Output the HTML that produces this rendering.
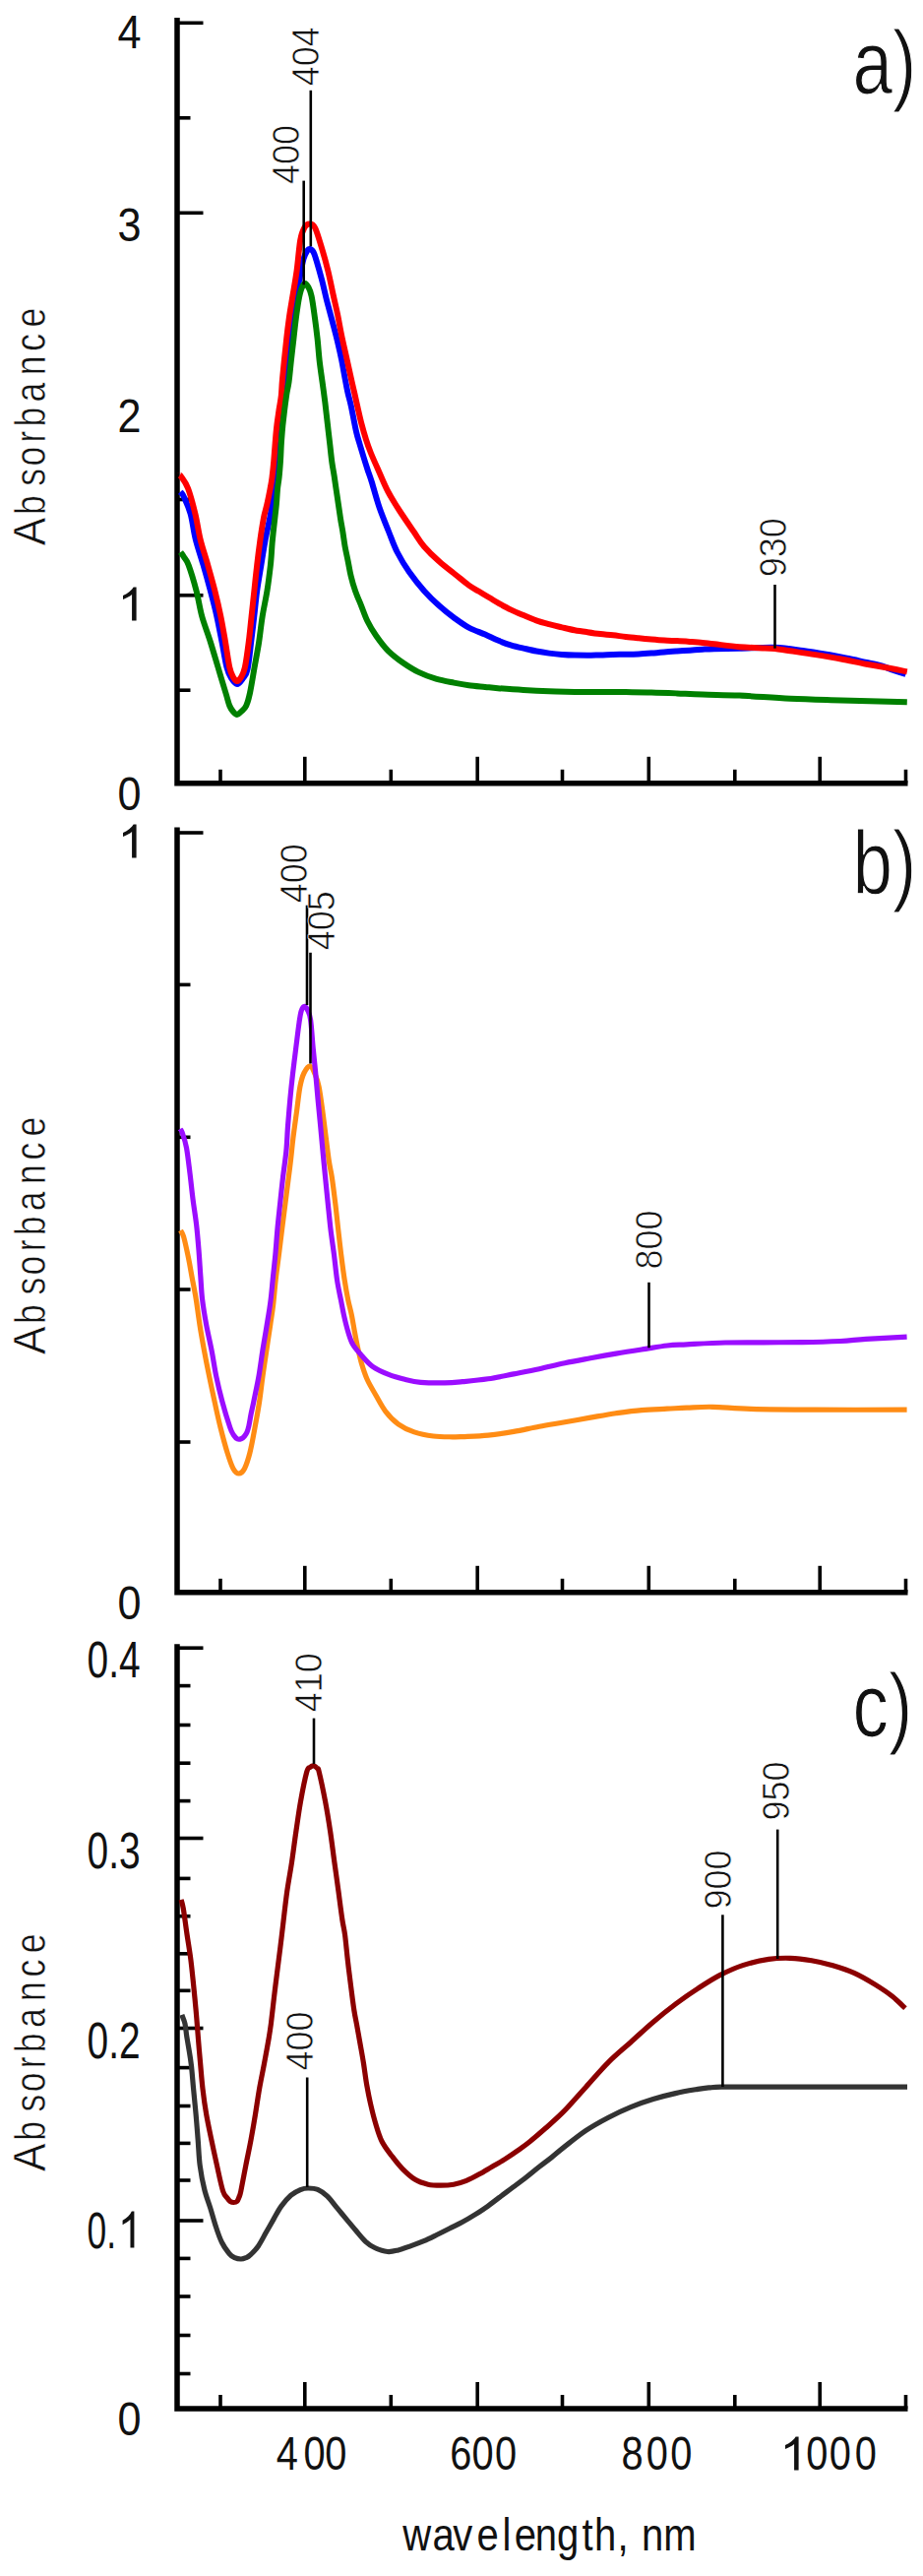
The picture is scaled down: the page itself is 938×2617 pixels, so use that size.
<!DOCTYPE html><html><head><meta charset="utf-8"><style>html,body{margin:0;padding:0;background:#fff;width:938px;height:2617px;overflow:hidden}svg{display:block}text{font-family:"Liberation Sans",sans-serif;fill:#111}</style></head><body>
<svg width="938" height="2617" viewBox="0 0 938 2617">
<rect width="938" height="2617" fill="#fff"/>
<path d="M180.0,18.0 V795.8 H922.5" fill="none" stroke="#000" stroke-width="5.5" stroke-linejoin="miter"/>
<line x1="180" y1="23.3" x2="206.5" y2="23.3" stroke="#000" stroke-width="3.6"/>
<line x1="180" y1="216.3" x2="206.5" y2="216.3" stroke="#000" stroke-width="3.6"/>
<line x1="180" y1="604.8" x2="206.5" y2="604.8" stroke="#000" stroke-width="3.6"/>
<line x1="180" y1="119.8" x2="193.5" y2="119.8" stroke="#000" stroke-width="3.6"/>
<line x1="180" y1="507.5" x2="193.5" y2="507.5" stroke="#000" stroke-width="3.6"/>
<line x1="180" y1="701.2" x2="193.5" y2="701.2" stroke="#000" stroke-width="3.6"/>
<line x1="309.8" y1="795.8" x2="309.8" y2="768.8" stroke="#000" stroke-width="3.6"/>
<line x1="485.2" y1="795.8" x2="485.2" y2="768.8" stroke="#000" stroke-width="3.6"/>
<line x1="659.3" y1="795.8" x2="659.3" y2="768.8" stroke="#000" stroke-width="3.6"/>
<line x1="833.2" y1="795.8" x2="833.2" y2="768.8" stroke="#000" stroke-width="3.6"/>
<line x1="224.0" y1="795.8" x2="224.0" y2="781.8" stroke="#000" stroke-width="3.6"/>
<line x1="397.3" y1="795.8" x2="397.3" y2="781.8" stroke="#000" stroke-width="3.6"/>
<line x1="571.5" y1="795.8" x2="571.5" y2="781.8" stroke="#000" stroke-width="3.6"/>
<line x1="746.8" y1="795.8" x2="746.8" y2="781.8" stroke="#000" stroke-width="3.6"/>
<line x1="920.5" y1="795.8" x2="920.5" y2="781.8" stroke="#000" stroke-width="3.6"/>
<path d="M180.0,840.5 V1617.8 H922.5" fill="none" stroke="#000" stroke-width="5.5" stroke-linejoin="miter"/>
<line x1="180" y1="846.0" x2="206.5" y2="846.0" stroke="#000" stroke-width="3.6"/>
<line x1="180" y1="1000.4" x2="193.5" y2="1000.4" stroke="#000" stroke-width="3.6"/>
<line x1="180" y1="1155.3" x2="193.5" y2="1155.3" stroke="#000" stroke-width="3.6"/>
<line x1="180" y1="1310.0" x2="193.5" y2="1310.0" stroke="#000" stroke-width="3.6"/>
<line x1="180" y1="1465.0" x2="193.5" y2="1465.0" stroke="#000" stroke-width="3.6"/>
<line x1="309.8" y1="1617.8" x2="309.8" y2="1590.8" stroke="#000" stroke-width="3.6"/>
<line x1="485.2" y1="1617.8" x2="485.2" y2="1590.8" stroke="#000" stroke-width="3.6"/>
<line x1="659.3" y1="1617.8" x2="659.3" y2="1590.8" stroke="#000" stroke-width="3.6"/>
<line x1="833.2" y1="1617.8" x2="833.2" y2="1590.8" stroke="#000" stroke-width="3.6"/>
<line x1="224.0" y1="1617.8" x2="224.0" y2="1603.8" stroke="#000" stroke-width="3.6"/>
<line x1="397.3" y1="1617.8" x2="397.3" y2="1603.8" stroke="#000" stroke-width="3.6"/>
<line x1="571.5" y1="1617.8" x2="571.5" y2="1603.8" stroke="#000" stroke-width="3.6"/>
<line x1="746.8" y1="1617.8" x2="746.8" y2="1603.8" stroke="#000" stroke-width="3.6"/>
<line x1="920.5" y1="1617.8" x2="920.5" y2="1603.8" stroke="#000" stroke-width="3.6"/>
<path d="M180.0,1670.2 V2447.0 H922.5" fill="none" stroke="#000" stroke-width="5.5" stroke-linejoin="miter"/>
<line x1="180" y1="1674.2" x2="206.5" y2="1674.2" stroke="#000" stroke-width="3.6"/>
<line x1="180" y1="1867.5" x2="206.5" y2="1867.5" stroke="#000" stroke-width="3.6"/>
<line x1="180" y1="2060.5" x2="206.5" y2="2060.5" stroke="#000" stroke-width="3.6"/>
<line x1="180" y1="2256.0" x2="206.5" y2="2256.0" stroke="#000" stroke-width="3.6"/>
<line x1="180" y1="1712.6" x2="193.5" y2="1712.6" stroke="#000" stroke-width="3.6"/>
<line x1="180" y1="1752.5" x2="193.5" y2="1752.5" stroke="#000" stroke-width="3.6"/>
<line x1="180" y1="1791.2" x2="193.5" y2="1791.2" stroke="#000" stroke-width="3.6"/>
<line x1="180" y1="1829.6" x2="193.5" y2="1829.6" stroke="#000" stroke-width="3.6"/>
<line x1="180" y1="1908.4" x2="193.5" y2="1908.4" stroke="#000" stroke-width="3.6"/>
<line x1="180" y1="1946.7" x2="193.5" y2="1946.7" stroke="#000" stroke-width="3.6"/>
<line x1="180" y1="1984.8" x2="193.5" y2="1984.8" stroke="#000" stroke-width="3.6"/>
<line x1="180" y1="2022.3" x2="193.5" y2="2022.3" stroke="#000" stroke-width="3.6"/>
<line x1="180" y1="2100.6" x2="193.5" y2="2100.6" stroke="#000" stroke-width="3.6"/>
<line x1="180" y1="2139.5" x2="193.5" y2="2139.5" stroke="#000" stroke-width="3.6"/>
<line x1="180" y1="2177.4" x2="193.5" y2="2177.4" stroke="#000" stroke-width="3.6"/>
<line x1="180" y1="2215.0" x2="193.5" y2="2215.0" stroke="#000" stroke-width="3.6"/>
<line x1="180" y1="2294.4" x2="193.5" y2="2294.4" stroke="#000" stroke-width="3.6"/>
<line x1="180" y1="2333.0" x2="193.5" y2="2333.0" stroke="#000" stroke-width="3.6"/>
<line x1="180" y1="2372.5" x2="193.5" y2="2372.5" stroke="#000" stroke-width="3.6"/>
<line x1="180" y1="2411.5" x2="193.5" y2="2411.5" stroke="#000" stroke-width="3.6"/>
<line x1="309.8" y1="2447.0" x2="309.8" y2="2420.0" stroke="#000" stroke-width="3.6"/>
<line x1="485.2" y1="2447.0" x2="485.2" y2="2420.0" stroke="#000" stroke-width="3.6"/>
<line x1="659.3" y1="2447.0" x2="659.3" y2="2420.0" stroke="#000" stroke-width="3.6"/>
<line x1="833.2" y1="2447.0" x2="833.2" y2="2420.0" stroke="#000" stroke-width="3.6"/>
<line x1="224.0" y1="2447.0" x2="224.0" y2="2433.0" stroke="#000" stroke-width="3.6"/>
<line x1="397.3" y1="2447.0" x2="397.3" y2="2433.0" stroke="#000" stroke-width="3.6"/>
<line x1="571.5" y1="2447.0" x2="571.5" y2="2433.0" stroke="#000" stroke-width="3.6"/>
<line x1="746.8" y1="2447.0" x2="746.8" y2="2433.0" stroke="#000" stroke-width="3.6"/>
<line x1="920.5" y1="2447.0" x2="920.5" y2="2433.0" stroke="#000" stroke-width="3.6"/>
<path d="M183.0,500.0 C183.5,500.5 184.2,499.3 186.0,503.0 C187.8,506.7 191.5,514.5 193.6,522.0 C195.7,529.5 196.6,539.3 198.8,548.0 C201.0,556.7 204.1,565.3 206.6,574.0 C209.1,582.7 211.5,591.3 213.8,600.0 C216.1,608.7 218.4,617.3 220.3,626.0 C222.2,634.7 223.8,643.3 225.5,652.0 C227.2,660.7 228.9,671.8 230.5,678.0 C232.1,684.2 233.2,686.2 235.0,689.0 C236.8,691.8 239.0,695.0 241.0,695.0 C243.0,695.0 245.2,691.5 247.0,689.0 C248.8,686.5 250.1,686.2 251.5,680.0 C252.9,673.8 254.1,661.0 255.2,652.0 C256.3,643.0 257.3,634.7 258.3,626.0 C259.3,617.3 260.0,608.7 261.2,600.0 C262.4,591.3 264.0,582.7 265.4,574.0 C266.8,565.3 268.1,556.7 269.7,548.0 C271.3,539.3 273.6,530.5 275.0,522.0 C276.4,513.5 277.2,505.7 278.3,497.0 C279.4,488.3 280.6,476.5 281.3,470.0 C282.1,463.5 282.1,464.7 282.8,458.0 C283.5,451.3 284.7,438.2 285.6,430.0 C286.5,421.8 287.4,416.0 288.3,409.0 C289.2,402.0 290.0,395.2 290.8,388.0 C291.6,380.8 292.5,373.3 293.3,366.0 C294.1,358.7 294.8,351.2 295.6,344.0 C296.4,336.8 297.2,330.2 298.2,323.0 C299.2,315.8 300.4,308.2 301.5,301.0 C302.6,293.8 303.8,286.3 305.0,280.0 C306.2,273.7 307.3,267.2 308.5,263.0 C309.7,258.8 310.9,256.7 312.0,255.0 C313.1,253.3 313.9,252.8 315.0,253.0 C316.1,253.2 317.4,254.1 318.5,256.0 C319.6,257.9 320.0,259.5 321.4,264.2 C322.8,268.9 325.2,277.2 327.0,284.0 C328.8,290.8 330.2,298.0 332.0,305.0 C333.8,312.0 335.8,319.0 337.6,326.0 C339.4,333.0 341.4,340.3 343.0,347.0 C344.6,353.7 345.9,359.5 347.2,366.0 C348.5,372.5 349.8,380.3 350.9,386.0 C352.0,391.7 352.7,395.7 353.7,400.0 C354.7,404.3 355.3,405.7 356.7,412.0 C358.1,418.3 360.4,431.5 361.9,438.0 C363.4,444.5 364.2,446.7 365.5,451.0 C366.8,455.3 368.1,459.7 369.4,464.0 C370.7,468.3 372.1,472.7 373.5,477.0 C374.9,481.3 375.9,483.5 377.9,490.0 C379.9,496.5 382.8,507.7 385.7,516.0 C388.6,524.3 392.0,532.5 395.0,540.0 C398.0,547.5 400.2,554.2 403.7,561.0 C407.2,567.8 411.2,574.5 415.8,581.0 C420.4,587.5 425.9,594.5 431.0,600.2 C436.1,605.9 441.1,610.8 446.2,615.3 C451.2,619.8 456.2,623.8 461.3,627.5 C466.4,631.2 471.2,634.8 476.5,637.6 C481.8,640.5 488.1,642.4 493.0,644.6 C497.9,646.8 501.7,648.8 506.0,650.6 C510.3,652.4 514.7,654.0 519.0,655.3 C523.3,656.6 527.7,657.6 532.0,658.6 C536.3,659.6 540.7,660.7 545.0,661.5 C549.3,662.3 553.7,663.0 558.0,663.6 C562.3,664.2 566.7,664.7 571.0,665.0 C575.3,665.3 579.7,665.5 584.0,665.6 C588.3,665.7 592.7,665.7 597.0,665.7 C601.3,665.7 605.7,665.5 610.0,665.4 C614.3,665.3 618.7,665.0 623.0,664.9 C627.3,664.8 631.7,664.9 636.0,664.8 C640.3,664.7 644.7,664.6 649.0,664.4 C653.3,664.2 657.7,663.9 662.0,663.6 C666.3,663.3 670.7,662.9 675.0,662.5 C679.3,662.1 683.7,661.8 688.0,661.5 C692.3,661.2 696.7,661.0 701.0,660.7 C705.3,660.4 709.9,660.0 714.0,659.7 C718.1,659.5 719.5,659.4 725.8,659.2 C732.1,659.0 741.3,658.9 751.6,658.7 C761.9,658.5 777.0,657.4 787.7,657.8 C798.4,658.2 806.5,659.7 816.0,661.0 C825.5,662.3 836.6,664.2 844.4,665.5 C852.1,666.8 856.5,667.8 862.5,669.0 C868.5,670.2 874.9,671.8 880.5,673.0 C886.1,674.2 891.7,675.3 896.0,676.5 C900.3,677.7 902.2,678.9 906.3,680.3 C910.4,681.7 918.1,684.2 920.5,685.0" fill="none" stroke="#0000ff" stroke-width="6" stroke-linejoin="round" stroke-linecap="butt"/>
<path d="M182.5,483.0 C182.8,483.2 182.6,481.8 184.0,484.0 C185.4,486.2 188.6,489.7 191.0,496.0 C193.4,502.3 196.3,513.3 198.4,522.0 C200.5,530.7 201.5,539.3 203.6,548.0 C205.7,556.7 208.8,565.3 211.2,574.0 C213.6,582.7 216.1,591.3 218.3,600.0 C220.5,608.7 222.5,617.3 224.3,626.0 C226.1,634.7 227.5,643.3 229.0,652.0 C230.5,660.7 232.0,672.0 233.3,678.0 C234.6,684.0 235.7,685.7 237.0,688.0 C238.3,690.3 239.7,692.0 241.0,692.0 C242.3,692.0 243.7,690.3 245.0,688.0 C246.3,685.7 247.6,684.0 248.9,678.0 C250.2,672.0 251.7,660.7 252.8,652.0 C253.9,643.3 254.7,634.7 255.6,626.0 C256.5,617.3 257.5,608.7 258.4,600.0 C259.3,591.3 260.2,582.7 261.2,574.0 C262.2,565.3 263.4,556.0 264.5,548.0 C265.6,540.0 266.9,531.8 268.0,526.0 C269.1,520.2 270.1,517.8 271.2,513.0 C272.3,508.2 273.6,501.7 274.5,497.0 C275.4,492.3 275.9,489.8 276.5,485.0 C277.1,480.2 277.8,473.8 278.3,468.0 C278.8,462.2 279.2,455.9 279.7,450.0 C280.2,444.1 280.6,438.2 281.3,432.5 C282.0,426.8 282.9,421.1 283.6,416.0 C284.4,410.9 285.3,406.8 285.8,402.0 C286.3,397.2 286.3,393.5 286.8,387.5 C287.3,381.5 288.2,373.0 288.9,365.8 C289.6,358.6 290.4,351.4 291.2,344.2 C292.0,337.0 292.9,329.7 293.9,322.5 C294.9,315.3 296.1,308.7 297.4,300.8 C298.7,292.9 300.3,284.5 301.6,275.0 C302.9,265.5 303.9,251.3 305.2,244.0 C306.5,236.7 307.9,233.8 309.5,231.0 C311.1,228.2 313.1,227.4 314.9,227.5 C316.7,227.6 318.2,227.4 320.3,231.7 C322.4,236.0 325.2,246.1 327.4,253.3 C329.6,260.5 331.5,267.6 333.3,275.0 C335.1,282.4 336.7,290.5 338.3,298.0 C339.9,305.5 341.8,313.0 343.2,320.0 C344.6,327.0 345.6,333.1 347.0,340.0 C348.4,346.9 350.2,354.5 351.8,361.7 C353.4,368.9 355.2,377.0 356.6,383.4 C358.0,389.8 359.2,394.9 360.4,400.0 C361.5,405.1 362.4,409.2 363.5,414.0 C364.6,418.8 365.6,423.6 367.0,429.0 C368.4,434.4 370.4,441.5 372.0,446.7 C373.6,451.9 374.6,454.5 376.8,460.0 C379.0,465.5 382.4,473.0 385.3,479.5 C388.2,486.0 390.7,492.5 394.1,499.0 C397.5,505.5 401.4,511.7 405.8,518.5 C410.2,525.3 416.2,533.9 420.4,540.0 C424.6,546.1 426.7,550.2 431.0,555.2 C435.3,560.2 441.1,565.8 446.2,570.3 C451.2,574.8 456.2,578.5 461.3,582.5 C466.4,586.5 472.3,591.6 476.5,594.6 C480.7,597.6 483.2,598.7 486.7,600.8 C490.2,602.9 494.3,605.4 497.5,607.3 C500.7,609.2 502.4,610.4 506.0,612.4 C509.6,614.4 514.7,617.3 519.0,619.4 C523.3,621.5 527.7,623.3 532.0,625.1 C536.3,626.9 540.7,628.8 545.0,630.3 C549.3,631.8 553.7,633.0 558.0,634.2 C562.3,635.4 566.7,636.3 571.0,637.3 C575.3,638.3 579.7,639.4 584.0,640.2 C588.3,641.0 592.7,641.6 597.0,642.2 C601.3,642.9 605.7,643.6 610.0,644.1 C614.3,644.6 618.7,644.8 623.0,645.3 C627.3,645.8 631.7,646.5 636.0,647.0 C640.3,647.5 644.7,647.9 649.0,648.3 C653.3,648.7 657.7,649.2 662.0,649.6 C666.3,650.0 670.7,650.4 675.0,650.6 C679.3,650.9 683.7,650.9 688.0,651.1 C692.3,651.3 696.7,651.6 701.0,651.9 C705.3,652.2 709.9,652.5 714.0,652.9 C718.1,653.3 719.5,653.6 725.8,654.3 C732.1,655.0 743.0,656.5 751.6,657.2 C760.2,657.9 771.4,658.2 777.4,658.5 C783.4,658.8 783.4,658.4 787.7,658.9 C792.0,659.4 796.2,660.3 803.1,661.3 C810.0,662.3 820.3,663.7 828.9,665.1 C837.5,666.5 846.1,667.9 854.7,669.5 C863.3,671.1 871.9,673.1 880.5,674.7 C889.1,676.3 899.4,678.0 906.3,679.3 C913.2,680.6 919.2,681.9 921.8,682.4" fill="none" stroke="#ff0000" stroke-width="6" stroke-linejoin="round" stroke-linecap="butt"/>
<path d="M183.5,561.0 C184.1,561.8 185.7,563.8 187.0,566.0 C188.3,568.2 189.5,568.3 191.6,574.0 C193.7,579.7 197.2,591.3 199.5,600.0 C201.8,608.7 202.8,617.3 205.2,626.0 C207.6,634.7 211.1,643.3 213.8,652.0 C216.5,660.7 219.0,669.3 221.6,678.0 C224.2,686.7 227.4,697.5 229.4,704.0 C231.4,710.5 232.0,713.8 233.3,717.0 C234.6,720.2 235.7,721.5 237.0,723.0 C238.3,724.5 239.7,726.0 241.0,726.0 C242.3,726.0 243.5,724.5 245.0,723.0 C246.5,721.5 248.7,720.2 250.2,717.0 C251.7,713.8 252.6,710.5 254.0,704.0 C255.4,697.5 257.1,686.7 258.6,678.0 C260.1,669.3 261.9,660.7 263.2,652.0 C264.5,643.3 265.3,634.7 266.7,626.0 C268.1,617.3 270.1,608.7 271.5,600.0 C272.9,591.3 274.0,582.0 274.9,574.0 C275.8,566.0 276.1,557.7 276.6,552.0 C277.1,546.3 277.3,544.7 277.8,540.0 C278.3,535.3 279.1,528.7 279.6,524.0 C280.1,519.3 280.5,516.5 280.9,512.0 C281.3,507.5 281.6,501.5 282.0,497.0 C282.4,492.5 283.1,489.8 283.6,485.0 C284.1,480.2 284.6,473.8 285.0,468.0 C285.4,462.2 285.5,455.9 285.9,450.0 C286.3,444.1 286.8,438.2 287.3,432.5 C287.9,426.8 288.6,421.2 289.2,416.0 C289.8,410.8 290.5,405.8 291.2,401.0 C291.9,396.2 292.8,393.4 293.6,387.5 C294.4,381.6 295.1,373.0 295.9,365.8 C296.7,358.6 297.6,351.4 298.4,344.2 C299.2,337.0 300.0,329.0 300.9,322.5 C301.8,316.0 302.6,309.9 303.5,305.0 C304.4,300.1 305.4,295.8 306.5,293.0 C307.6,290.2 308.8,288.2 310.0,288.0 C311.2,287.8 312.4,289.9 313.5,292.0 C314.6,294.1 315.5,295.7 316.6,300.8 C317.7,305.9 318.9,315.3 319.9,322.5 C320.9,329.7 321.8,337.0 322.6,344.2 C323.4,351.4 323.8,358.6 324.6,365.8 C325.4,373.0 326.5,380.3 327.5,387.5 C328.5,394.7 329.5,402.0 330.4,409.2 C331.3,416.4 332.1,423.6 332.9,430.8 C333.7,438.0 334.6,446.0 335.4,452.5 C336.1,459.0 336.7,464.9 337.4,470.0 C338.1,475.1 338.7,477.5 339.6,483.3 C340.5,489.1 341.7,497.8 342.8,505.0 C343.9,512.2 345.1,520.9 346.0,526.7 C346.9,532.5 347.5,535.2 348.3,540.0 C349.1,544.8 349.7,550.2 350.6,555.2 C351.5,560.2 352.7,565.2 353.7,570.3 C354.7,575.3 355.4,580.4 356.7,585.5 C357.9,590.6 359.4,595.7 361.2,600.7 C363.0,605.8 365.3,610.8 367.3,615.8 C369.3,620.8 370.9,625.9 373.4,631.0 C375.9,636.1 379.0,641.2 382.5,646.2 C386.0,651.2 390.1,656.8 394.6,661.3 C399.2,665.8 404.8,670.0 409.8,673.5 C414.9,677.0 419.3,679.9 424.9,682.6 C430.4,685.3 437.0,687.8 443.1,689.6 C449.2,691.4 455.7,692.5 461.3,693.6 C466.9,694.7 471.2,695.5 476.5,696.2 C481.8,696.9 488.1,697.4 493.0,697.9 C497.9,698.4 499.5,698.7 506.0,699.2 C512.5,699.7 523.3,700.5 532.0,701.0 C540.7,701.5 549.3,701.9 558.0,702.2 C566.7,702.5 571.0,702.9 584.0,703.0 C597.0,703.1 623.0,703.0 636.0,703.1 C649.0,703.2 653.3,703.2 662.0,703.4 C670.7,703.6 679.3,704.0 688.0,704.4 C696.7,704.8 703.4,705.2 714.0,705.6 C724.6,706.0 736.8,705.9 751.6,706.6 C766.5,707.3 785.9,709.0 803.1,709.8 C820.3,710.6 834.9,710.9 854.7,711.5 C874.5,712.1 910.6,713.0 921.8,713.3" fill="none" stroke="#008000" stroke-width="6" stroke-linejoin="round" stroke-linecap="butt"/>
<path d="M183.5,1250.0 C184.0,1251.0 185.5,1252.9 186.5,1256.0 C187.5,1259.1 188.5,1264.0 189.5,1268.5 C190.5,1273.0 191.6,1278.2 192.5,1283.0 C193.4,1287.8 194.2,1292.5 195.0,1297.0 C195.8,1301.5 196.7,1305.8 197.5,1310.0 C198.3,1314.2 198.7,1316.0 199.6,1322.0 C200.5,1328.0 201.7,1337.7 203.0,1346.0 C204.3,1354.3 205.9,1363.3 207.5,1372.0 C209.1,1380.7 210.8,1389.3 212.6,1398.0 C214.4,1406.7 216.2,1415.3 218.1,1424.0 C220.0,1432.7 221.8,1441.3 224.0,1450.0 C226.2,1458.7 228.9,1469.0 231.1,1476.0 C233.3,1483.0 235.1,1488.5 237.0,1492.0 C238.9,1495.5 240.9,1497.0 242.8,1497.0 C244.7,1497.0 246.7,1495.5 248.5,1492.0 C250.3,1488.5 252.1,1483.0 253.9,1476.0 C255.7,1469.0 257.5,1458.7 259.1,1450.0 C260.7,1441.3 262.3,1432.7 263.6,1424.0 C264.9,1415.3 265.8,1406.7 267.0,1398.0 C268.2,1389.3 269.5,1380.7 270.8,1372.0 C272.1,1363.3 273.6,1353.7 274.7,1346.0 C275.8,1338.3 276.7,1333.7 277.6,1326.0 C278.5,1318.3 279.2,1308.7 280.2,1300.0 C281.2,1291.3 282.4,1282.7 283.5,1274.0 C284.6,1265.3 285.6,1256.7 286.7,1248.0 C287.8,1239.3 288.9,1230.7 290.0,1222.0 C291.1,1213.3 292.4,1203.0 293.3,1196.0 C294.2,1189.0 294.5,1186.7 295.3,1180.0 C296.1,1173.3 296.9,1164.3 297.9,1156.0 C298.9,1147.7 300.2,1138.7 301.4,1130.0 C302.6,1121.3 303.6,1110.7 304.9,1104.0 C306.2,1097.3 307.3,1093.5 309.0,1090.0 C310.7,1086.5 313.2,1082.8 315.0,1083.0 C316.8,1083.2 318.5,1087.5 320.0,1091.0 C321.5,1094.5 322.8,1097.5 324.1,1104.0 C325.4,1110.5 326.8,1121.3 328.0,1130.0 C329.2,1138.7 330.2,1147.7 331.3,1156.0 C332.4,1164.3 333.4,1173.3 334.4,1180.0 C335.4,1186.7 336.2,1189.0 337.3,1196.0 C338.4,1203.0 339.6,1213.3 340.7,1222.0 C341.8,1230.7 342.6,1239.3 343.6,1248.0 C344.6,1256.7 345.5,1265.3 346.6,1274.0 C347.7,1282.7 348.9,1292.3 350.1,1300.0 C351.3,1307.7 352.4,1314.0 353.6,1320.0 C354.8,1326.0 356.3,1330.9 357.4,1336.3 C358.5,1341.7 359.3,1347.1 360.3,1352.5 C361.3,1357.9 362.3,1363.4 363.5,1368.8 C364.7,1374.2 365.8,1379.6 367.4,1385.0 C369.0,1390.4 370.7,1395.9 373.1,1401.3 C375.5,1406.7 378.9,1412.1 382.0,1417.5 C385.1,1422.9 388.0,1428.9 391.8,1433.8 C395.6,1438.7 399.9,1443.3 404.8,1446.8 C409.7,1450.3 415.1,1452.9 421.0,1454.9 C426.9,1456.9 434.0,1458.2 440.5,1459.0 C447.0,1459.8 455.1,1459.7 460.0,1459.8 C464.9,1459.9 464.0,1459.9 470.0,1459.6 C476.0,1459.3 487.3,1459.0 496.0,1458.1 C504.7,1457.2 513.3,1455.9 522.0,1454.4 C530.7,1452.9 539.3,1450.8 548.0,1449.2 C556.7,1447.6 565.3,1446.3 574.0,1444.8 C582.7,1443.3 591.3,1441.6 600.0,1440.1 C608.7,1438.6 617.3,1437.0 626.0,1435.7 C634.7,1434.5 643.3,1433.3 652.0,1432.6 C660.7,1431.8 670.3,1431.6 678.0,1431.2 C685.7,1430.8 690.3,1430.4 698.0,1430.1 C705.7,1429.8 713.2,1429.1 724.0,1429.3 C734.8,1429.5 745.7,1430.9 763.0,1431.4 C780.3,1431.9 801.6,1432.1 828.0,1432.2 C854.4,1432.3 906.0,1432.2 921.6,1432.2" fill="none" stroke="#ff8c14" stroke-width="5.2" stroke-linejoin="round" stroke-linecap="butt"/>
<path d="M183.0,1147.0 C183.3,1147.5 183.9,1146.8 185.0,1150.0 C186.1,1153.2 188.2,1159.0 189.5,1166.0 C190.8,1173.0 191.9,1183.3 193.0,1192.0 C194.1,1200.7 194.9,1209.3 196.0,1218.0 C197.1,1226.7 198.6,1235.3 199.6,1244.0 C200.6,1252.7 201.3,1261.3 202.0,1270.0 C202.7,1278.7 203.2,1287.7 203.8,1296.0 C204.4,1304.3 204.6,1311.7 205.6,1320.0 C206.6,1328.3 208.1,1337.3 209.7,1346.0 C211.3,1354.7 213.4,1363.3 215.1,1372.0 C216.8,1380.7 217.9,1389.3 219.7,1398.0 C221.5,1406.7 223.6,1415.3 225.9,1424.0 C228.2,1432.7 231.8,1444.3 233.7,1450.0 C235.6,1455.7 236.2,1456.0 237.5,1458.0 C238.8,1460.0 240.2,1461.4 241.5,1462.0 C242.8,1462.6 244.3,1462.0 245.5,1461.5 C246.7,1461.0 247.6,1460.1 248.5,1459.0 C249.4,1457.9 250.3,1456.7 251.0,1455.0 C251.7,1453.3 252.1,1452.0 252.8,1449.0 C253.5,1446.0 254.2,1441.2 255.0,1437.0 C255.8,1432.8 256.5,1430.5 257.8,1424.0 C259.1,1417.5 261.5,1406.7 263.0,1398.0 C264.5,1389.3 265.6,1380.3 266.9,1372.0 C268.2,1363.7 269.6,1356.2 270.9,1348.0 C272.2,1339.8 273.8,1331.0 274.8,1323.0 C275.9,1315.0 276.4,1308.2 277.2,1300.0 C278.0,1291.8 279.1,1282.7 279.9,1274.0 C280.7,1265.3 281.2,1256.7 282.0,1248.0 C282.8,1239.3 283.8,1230.7 284.7,1222.0 C285.6,1213.3 286.5,1204.7 287.5,1196.0 C288.5,1187.3 289.9,1178.8 290.8,1170.0 C291.7,1161.2 291.9,1151.8 292.6,1143.0 C293.3,1134.2 294.0,1125.7 294.8,1117.0 C295.6,1108.3 296.5,1099.7 297.5,1091.0 C298.5,1082.3 299.6,1073.7 300.7,1065.0 C301.8,1056.3 303.1,1045.3 304.0,1039.0 C304.9,1032.7 305.3,1029.8 306.2,1027.0 C307.1,1024.2 308.1,1022.7 309.2,1022.5 C310.2,1022.3 311.4,1023.8 312.5,1026.0 C313.6,1028.2 314.7,1029.5 315.6,1036.0 C316.6,1042.5 317.3,1055.8 318.2,1065.0 C319.1,1074.2 320.0,1082.3 320.8,1091.0 C321.6,1099.7 322.3,1108.3 323.1,1117.0 C323.9,1125.7 324.8,1134.3 325.6,1143.0 C326.4,1151.7 327.2,1160.2 328.0,1169.0 C328.8,1177.8 329.7,1187.2 330.6,1196.0 C331.5,1204.8 332.3,1213.3 333.2,1222.0 C334.1,1230.7 334.9,1239.3 335.9,1248.0 C336.9,1256.7 338.3,1265.3 339.4,1274.0 C340.5,1282.7 341.4,1292.3 342.5,1300.0 C343.6,1307.7 345.1,1314.0 346.3,1320.0 C347.5,1326.0 348.3,1330.9 349.5,1336.3 C350.7,1341.7 352.1,1347.6 353.6,1352.5 C355.1,1357.4 356.1,1361.4 358.4,1365.5 C360.7,1369.6 364.0,1373.1 367.4,1376.9 C370.8,1380.7 374.2,1385.0 378.8,1388.3 C383.4,1391.5 389.6,1394.2 395.0,1396.4 C400.4,1398.6 405.9,1400.0 411.3,1401.3 C416.7,1402.6 420.7,1403.7 427.5,1404.3 C434.3,1404.9 444.8,1405.0 451.9,1404.9 C459.0,1404.8 462.6,1404.4 470.0,1403.7 C477.4,1403.0 487.3,1402.1 496.0,1400.8 C504.7,1399.5 513.3,1397.6 522.0,1395.9 C530.7,1394.2 539.3,1392.6 548.0,1390.7 C556.7,1388.8 565.3,1386.5 574.0,1384.7 C582.7,1382.9 591.3,1381.4 600.0,1379.8 C608.7,1378.2 617.3,1376.6 626.0,1375.1 C634.7,1373.6 643.3,1372.3 652.0,1371.0 C660.7,1369.7 670.3,1367.9 678.0,1367.0 C685.7,1366.1 688.2,1366.3 698.0,1365.8 C707.8,1365.3 724.0,1364.3 737.0,1364.0 C750.0,1363.7 763.0,1363.9 776.0,1363.8 C789.0,1363.7 802.0,1363.8 815.0,1363.6 C828.0,1363.4 843.2,1363.0 854.0,1362.5 C864.8,1362.0 868.7,1361.1 880.0,1360.4 C891.3,1359.7 914.7,1358.5 921.6,1358.1" fill="none" stroke="#9b0dff" stroke-width="5.2" stroke-linejoin="round" stroke-linecap="butt"/>
<path d="M184.8,2046.9 C185.3,2048.4 187.2,2052.3 188.0,2056.0 C188.8,2059.7 189.1,2064.7 189.8,2069.0 C190.5,2073.3 191.2,2077.2 192.0,2082.0 C192.8,2086.8 193.6,2091.3 194.4,2098.0 C195.2,2104.7 195.8,2113.7 196.6,2122.0 C197.4,2130.3 198.3,2139.3 199.1,2148.0 C199.9,2156.7 200.5,2165.3 201.2,2174.0 C201.9,2182.7 202.1,2191.7 203.2,2200.0 C204.3,2208.3 205.9,2216.8 207.7,2224.0 C209.4,2231.2 211.7,2236.6 213.7,2243.0 C215.7,2249.4 217.6,2256.6 219.5,2262.4 C221.4,2268.2 223.1,2273.4 225.4,2278.0 C227.7,2282.6 231.0,2287.1 233.2,2289.7 C235.4,2292.3 236.6,2292.7 238.5,2293.6 C240.4,2294.5 243.0,2295.0 244.9,2295.0 C246.8,2295.0 248.4,2294.4 250.0,2293.7 C251.6,2293.0 252.5,2292.7 254.6,2290.7 C256.7,2288.7 259.8,2285.6 262.4,2281.9 C265.0,2278.2 267.6,2272.9 270.2,2268.3 C272.8,2263.8 275.4,2259.1 278.0,2254.6 C280.6,2250.1 282.9,2245.4 285.8,2241.4 C288.7,2237.4 292.4,2233.1 295.6,2230.3 C298.9,2227.5 302.4,2225.8 305.3,2224.6 C308.2,2223.4 310.2,2223.0 313.1,2223.0 C316.0,2223.0 319.6,2223.0 322.9,2224.4 C326.1,2225.8 329.4,2228.1 332.6,2231.2 C335.9,2234.3 339.1,2239.0 342.4,2242.9 C345.6,2246.8 348.9,2250.7 352.1,2254.6 C355.4,2258.5 358.6,2262.5 361.9,2266.3 C365.1,2270.1 368.5,2274.4 371.6,2277.3 C374.8,2280.2 377.1,2281.8 380.8,2283.5 C384.5,2285.2 389.8,2287.1 393.8,2287.5 C397.8,2287.9 400.7,2286.9 404.7,2285.9 C408.7,2284.9 413.4,2283.1 417.7,2281.6 C422.0,2280.1 426.4,2278.5 430.7,2276.7 C435.0,2274.8 439.4,2272.6 443.7,2270.5 C448.0,2268.4 452.4,2266.2 456.7,2264.0 C461.0,2261.8 465.4,2259.8 469.7,2257.5 C474.0,2255.2 478.4,2252.6 482.7,2249.9 C487.0,2247.2 491.4,2244.4 495.7,2241.3 C500.0,2238.2 504.4,2234.8 508.7,2231.5 C513.0,2228.2 517.4,2225.1 521.7,2221.8 C526.0,2218.6 530.4,2215.4 534.7,2212.0 C539.0,2208.6 543.4,2204.9 547.7,2201.5 C552.0,2198.1 556.5,2194.9 560.7,2191.6 C564.9,2188.3 567.0,2186.1 572.8,2181.6 C578.6,2177.1 587.9,2169.5 595.5,2164.4 C603.1,2159.3 610.7,2155.2 618.3,2151.2 C625.9,2147.2 633.4,2143.7 641.0,2140.6 C648.6,2137.5 656.2,2134.8 663.8,2132.5 C671.4,2130.2 678.9,2128.3 686.5,2126.6 C694.1,2124.9 703.4,2123.4 709.3,2122.4 C715.2,2121.4 718.0,2121.2 722.0,2120.8 C726.0,2120.4 726.7,2120.3 733.0,2120.2 C739.3,2120.1 728.5,2120.2 760.0,2120.2 C791.5,2120.2 895.0,2120.2 922.0,2120.2" fill="none" stroke="#333333" stroke-width="5.2" stroke-linejoin="round" stroke-linecap="butt"/>
<path d="M184.1,1929.9 C184.5,1931.4 185.3,1933.2 186.3,1939.0 C187.3,1944.8 188.7,1956.3 190.0,1965.0 C191.3,1973.7 192.8,1982.3 193.9,1991.0 C195.0,1999.7 195.8,2008.3 196.7,2017.0 C197.6,2025.7 198.4,2034.3 199.2,2043.0 C200.0,2051.7 200.6,2060.2 201.3,2069.0 C202.0,2077.8 202.8,2087.2 203.6,2096.0 C204.4,2104.8 205.0,2113.3 206.0,2122.0 C207.0,2130.7 208.2,2139.3 209.7,2148.0 C211.2,2156.7 213.1,2165.3 214.9,2174.0 C216.7,2182.7 218.6,2191.3 220.5,2200.0 C222.4,2208.7 224.8,2220.5 226.6,2226.0 C228.3,2231.5 229.8,2231.2 231.0,2233.0 C232.2,2234.8 232.9,2235.8 234.0,2236.5 C235.1,2237.2 236.3,2237.5 237.4,2237.5 C238.5,2237.5 239.9,2237.4 240.8,2236.5 C241.7,2235.6 242.3,2233.8 243.0,2232.0 C243.7,2230.2 243.7,2231.3 244.8,2226.0 C245.9,2220.7 248.1,2208.7 249.8,2200.0 C251.5,2191.3 253.4,2182.7 255.0,2174.0 C256.6,2165.3 258.1,2156.7 259.5,2148.0 C260.9,2139.3 262.1,2130.7 263.6,2122.0 C265.1,2113.3 267.0,2104.7 268.6,2096.0 C270.2,2087.3 272.2,2076.7 273.3,2070.0 C274.4,2063.3 274.5,2062.7 275.4,2056.0 C276.2,2049.3 277.4,2038.7 278.4,2030.0 C279.4,2021.3 280.5,2012.7 281.6,2004.0 C282.7,1995.3 283.8,1986.7 284.9,1978.0 C286.0,1969.3 286.9,1961.4 288.0,1952.0 C289.1,1942.6 290.3,1931.8 291.7,1921.7 C293.1,1911.6 295.1,1901.4 296.6,1891.3 C298.1,1881.2 299.3,1871.1 300.8,1861.0 C302.3,1850.9 303.6,1840.8 305.4,1830.7 C307.2,1820.6 310.1,1806.2 311.7,1800.3 C313.3,1794.4 313.8,1796.5 315.0,1795.5 C316.2,1794.5 317.8,1793.8 319.0,1794.0 C320.2,1794.2 321.6,1795.5 322.5,1796.5 C323.4,1797.5 322.9,1794.6 324.3,1800.3 C325.7,1806.0 328.8,1820.6 330.7,1830.7 C332.6,1840.8 334.2,1850.9 335.7,1861.0 C337.2,1871.1 338.4,1881.2 339.8,1891.3 C341.2,1901.4 342.7,1911.9 344.0,1921.7 C345.3,1931.5 346.7,1942.6 347.8,1950.0 C348.9,1957.4 349.7,1959.0 350.6,1966.0 C351.5,1973.0 352.4,1983.3 353.4,1992.0 C354.4,2000.7 355.5,2009.7 356.6,2018.0 C357.7,2026.3 358.7,2034.9 359.8,2042.0 C360.9,2049.1 362.1,2054.3 363.2,2060.5 C364.3,2066.7 365.4,2072.9 366.5,2079.0 C367.6,2085.1 368.6,2090.5 369.6,2097.0 C370.6,2103.5 371.5,2111.2 372.7,2118.0 C373.9,2124.8 375.1,2131.0 376.6,2137.5 C378.1,2144.0 379.7,2150.7 381.6,2157.0 C383.5,2163.3 385.3,2169.9 388.1,2175.5 C390.9,2181.1 394.7,2185.7 398.2,2190.3 C401.7,2194.9 405.0,2199.3 409.0,2203.3 C413.0,2207.3 417.7,2211.7 422.0,2214.3 C426.3,2217.0 430.7,2218.2 435.0,2219.2 C439.3,2220.2 443.7,2220.2 448.0,2220.2 C452.3,2220.2 456.7,2220.0 461.0,2219.2 C465.3,2218.4 469.7,2217.0 474.0,2215.3 C478.3,2213.6 482.7,2211.2 487.0,2208.8 C491.3,2206.5 495.7,2203.7 500.0,2201.2 C504.3,2198.7 508.7,2196.3 513.0,2193.6 C517.3,2190.9 521.7,2188.0 526.0,2184.9 C530.3,2181.8 534.3,2179.0 539.0,2175.2 C543.7,2171.4 548.6,2167.3 554.2,2162.3 C559.8,2157.3 565.9,2152.2 572.8,2145.2 C579.7,2138.2 587.9,2128.5 595.5,2120.2 C603.1,2111.8 610.7,2102.7 618.3,2095.1 C625.9,2087.5 633.4,2081.5 641.0,2074.7 C648.6,2067.9 656.2,2060.6 663.8,2054.2 C671.4,2047.7 678.9,2041.7 686.5,2036.0 C694.1,2030.3 701.7,2025.0 709.3,2020.1 C716.9,2015.2 724.4,2010.3 732.0,2006.4 C739.6,2002.5 746.6,1999.3 754.8,1996.6 C763.0,1993.9 773.3,1991.6 781.3,1990.4 C789.3,1989.2 795.8,1989.1 803.0,1989.3 C810.2,1989.5 817.5,1990.5 824.7,1991.8 C831.9,1993.0 839.1,1994.7 846.3,1996.8 C853.5,1998.9 860.8,2001.1 868.0,2004.4 C875.2,2007.7 883.2,2012.4 889.7,2016.4 C896.2,2020.4 902.0,2024.3 907.0,2028.3 C912.0,2032.3 917.8,2038.2 920.0,2040.2" fill="none" stroke="#8b0000" stroke-width="5.2" stroke-linejoin="round" stroke-linecap="butt"/>
<line x1="315.8" y1="91.8" x2="315.8" y2="250.3" stroke="#000" stroke-width="2.6"/>
<line x1="308.7" y1="183.6" x2="308.7" y2="289.3" stroke="#000" stroke-width="2.6"/>
<line x1="787.5" y1="594.0" x2="787.5" y2="658.7" stroke="#000" stroke-width="2.6"/>
<line x1="312.0" y1="919.7" x2="312.0" y2="1021.0" stroke="#000" stroke-width="2.6"/>
<line x1="315.5" y1="967.8" x2="315.5" y2="1080.5" stroke="#000" stroke-width="2.6"/>
<line x1="659.5" y1="1302.8" x2="659.5" y2="1369.3" stroke="#000" stroke-width="2.6"/>
<line x1="319.0" y1="1745.6" x2="319.0" y2="1792.0" stroke="#000" stroke-width="2.6"/>
<line x1="312.2" y1="2110.5" x2="312.2" y2="2222.0" stroke="#000" stroke-width="2.6"/>
<line x1="734.4" y1="1945.3" x2="734.4" y2="2120.0" stroke="#000" stroke-width="2.6"/>
<line x1="790.2" y1="1858.6" x2="790.2" y2="1990.0" stroke="#000" stroke-width="2.6"/>
<text transform="translate(324.0,87.3) rotate(-90)" font-size="38" textLength="60" lengthAdjust="spacingAndGlyphs" stroke="#fff" stroke-width="0.7">404</text>
<text transform="translate(304.3,187.0) rotate(-90)" font-size="38" textLength="60" lengthAdjust="spacingAndGlyphs" stroke="#fff" stroke-width="0.7">400</text>
<text transform="translate(798.8,586.3) rotate(-90)" font-size="38" textLength="60" lengthAdjust="spacingAndGlyphs" stroke="#fff" stroke-width="0.7">930</text>
<text transform="translate(311.6,917.3) rotate(-90)" font-size="38" textLength="60" lengthAdjust="spacingAndGlyphs" stroke="#fff" stroke-width="0.7">400</text>
<text transform="translate(340.3,965.3) rotate(-90)" font-size="38" textLength="60" lengthAdjust="spacingAndGlyphs" stroke="#fff" stroke-width="0.7">405</text>
<text transform="translate(672.8,1289.4) rotate(-90)" font-size="38" textLength="60" lengthAdjust="spacingAndGlyphs" stroke="#fff" stroke-width="0.7">800</text>
<text transform="translate(327.0,1739.2) rotate(-90)" font-size="38" textLength="60" lengthAdjust="spacingAndGlyphs" stroke="#fff" stroke-width="0.7">410</text>
<text transform="translate(317.7,2103.4) rotate(-90)" font-size="38" textLength="60" lengthAdjust="spacingAndGlyphs" stroke="#fff" stroke-width="0.7">400</text>
<text transform="translate(743.0,1939.4) rotate(-90)" font-size="38" textLength="60" lengthAdjust="spacingAndGlyphs" stroke="#fff" stroke-width="0.7">900</text>
<text transform="translate(802.3,1849.4) rotate(-90)" font-size="38" textLength="60" lengthAdjust="spacingAndGlyphs" stroke="#fff" stroke-width="0.7">950</text>
<text transform="translate(143.5,49.0) scale(0.88,1)" font-size="49" text-anchor="end">4</text>
<text transform="translate(143.5,245.0) scale(0.88,1)" font-size="49" text-anchor="end">3</text>
<text transform="translate(143.5,438.5) scale(0.88,1)" font-size="49" text-anchor="end">2</text>
<text transform="translate(143.5,822.5) scale(0.88,1)" font-size="49" text-anchor="end">0</text>
<text transform="translate(143.5,1644.5) scale(0.88,1)" font-size="49" text-anchor="end">0</text>
<path d="M138.60,630.50 L134.08,630.50 L134.08,604.01 C132.99,604.95 131.56,605.92 129.80,606.87 C128.04,607.82 126.43,608.53 125.00,609.02 L125.00,605.00 C127.54,603.91 129.75,602.60 131.64,601.03 C133.52,599.48 134.85,597.98 135.63,596.50 L138.60,596.50 Z" fill="#111"/>
<path d="M138.60,871.50 L134.08,871.50 L134.08,845.01 C132.99,845.95 131.56,846.92 129.80,847.87 C128.04,848.82 126.43,849.53 125.00,850.02 L125.00,846.00 C127.54,844.91 129.75,843.60 131.64,842.03 C133.52,840.48 134.85,838.98 135.63,837.50 L138.60,837.50 Z" fill="#111"/>
<text x="88.6" y="1703.5" font-size="51" textLength="54" lengthAdjust="spacingAndGlyphs">0.4</text>
<text x="88.6" y="1897.5" font-size="51" textLength="54" lengthAdjust="spacingAndGlyphs">0.3</text>
<text x="88.6" y="2090.5" font-size="51" textLength="54" lengthAdjust="spacingAndGlyphs">0.2</text>
<text x="88.6" y="2283.5" font-size="51" textLength="29.5" lengthAdjust="spacingAndGlyphs">0.</text>
<path d="M136.40,2283.50 L132.47,2283.50 L132.47,2254.75 C131.54,2255.77 130.29,2256.83 128.77,2257.86 C127.24,2258.88 125.84,2259.66 124.60,2260.19 L124.60,2255.82 C126.80,2254.65 128.72,2253.22 130.36,2251.51 C131.99,2249.83 133.15,2248.20 133.83,2246.60 L136.40,2246.60 Z" fill="#111"/>
<text transform="translate(143.5,2474.0) scale(0.88,1)" font-size="49" text-anchor="end">0</text>
<text transform="translate(45.6,554.20) rotate(-90) scale(0.924,1)" font-size="46.5" stroke="#fff" stroke-width="0.6">A</text>
<text transform="translate(45.6,556.00) rotate(-90) scale(0.82,1)" font-size="43.5" stroke="#fff" stroke-width="0.6" x="40.13 75.99 100.49 129.91 149.40 179.98 213.21 242.91 272.42">bsorbance</text>
<text transform="translate(45.6,1376.00) rotate(-90) scale(0.924,1)" font-size="46.5" stroke="#fff" stroke-width="0.6">A</text>
<text transform="translate(45.6,1377.80) rotate(-90) scale(0.82,1)" font-size="43.5" stroke="#fff" stroke-width="0.6" x="40.13 75.99 100.49 129.91 149.40 179.98 213.21 242.91 272.42">bsorbance</text>
<text transform="translate(45.6,2205.90) rotate(-90) scale(0.924,1)" font-size="46.5" stroke="#fff" stroke-width="0.6">A</text>
<text transform="translate(45.6,2207.70) rotate(-90) scale(0.82,1)" font-size="43.5" stroke="#fff" stroke-width="0.6" x="40.13 75.99 100.49 129.91 149.40 179.98 213.21 242.91 272.42">bsorbance</text>
<text transform="translate(0,2509.30) scale(0.820,1)" font-size="48.5" x="342.30 376.15 402.86">400</text>
<text transform="translate(0,2509.30) scale(0.820,1)" font-size="48.5" x="557.54 584.81 613.35">600</text>
<text transform="translate(0,2509.30) scale(0.820,1)" font-size="48.5" x="770.09 801.03 830.67">800</text>
<path d="M811.60,2509.50 L807.08,2509.50 L807.08,2483.01 C805.99,2483.95 804.56,2484.92 802.80,2485.87 C801.04,2486.82 799.43,2487.53 798.00,2488.02 L798.00,2484.00 C800.54,2482.91 802.75,2481.60 804.64,2480.03 C806.52,2478.48 807.85,2476.98 808.63,2475.50 L811.60,2475.50 Z" fill="#111"/>
<text transform="translate(0,2509.30) scale(0.820,1)" font-size="48.5" x="999.08 1027.62 1059.32">000</text>
<text transform="translate(0,2591.30) scale(0.870,1)" font-size="46" x="470.41 505.17 528.92 557.01 586.79 600.80 624.99 650.71 679.99 694.28 721.38 735.63 749.36 775.11">wavelength, nm</text>
<text transform="translate(866.5,95.3) scale(0.8,1)" font-size="91" stroke="#fff" stroke-width="1.2">a)</text>
<text transform="translate(866.5,907.5) scale(0.8,1)" font-size="91" stroke="#fff" stroke-width="1.2">b)</text>
<text transform="translate(866.5,1763.5) scale(0.8,1)" font-size="91" stroke="#fff" stroke-width="1.2">c)</text>
</svg></body></html>
